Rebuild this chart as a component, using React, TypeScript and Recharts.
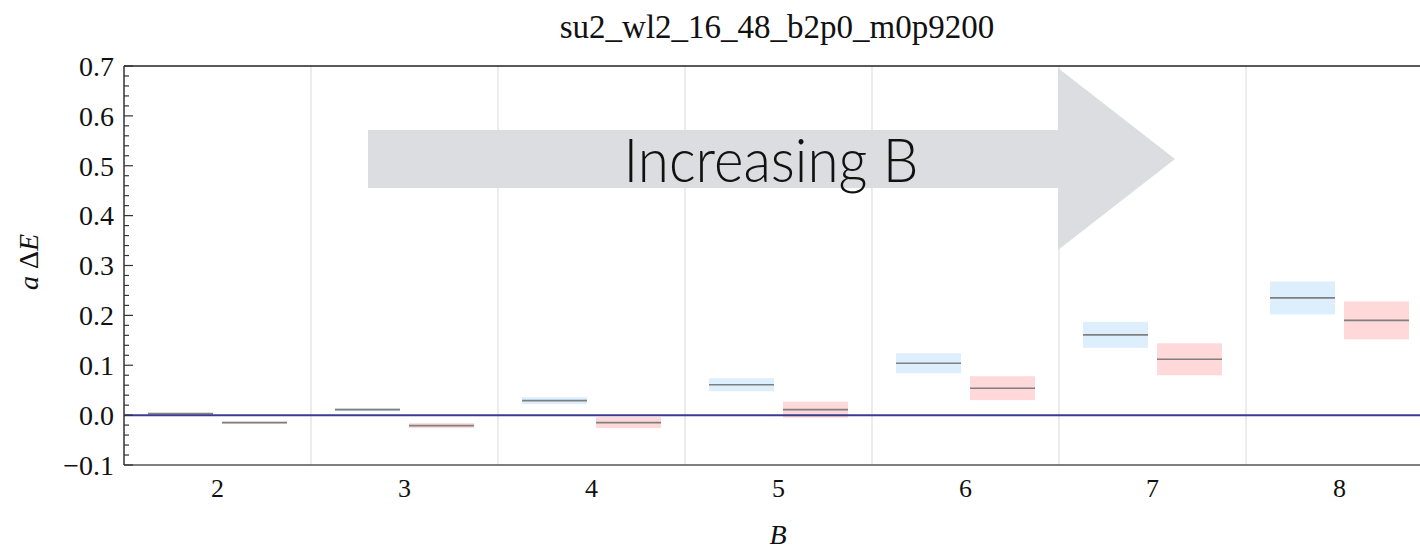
import {
  BarChart,
  Bar,
  XAxis,
  YAxis,
  CartesianGrid,
  ReferenceLine,
  Customized,
} from 'recharts';

const B_VALUES = [2, 3, 4, 5, 6, 7, 8];
const BLUE_CENTER = [0.003, 0.011, 0.029, 0.061, 0.104, 0.161, 0.235];
const BLUE_ERR = [0.001, 0.003, 0.007, 0.013, 0.02, 0.026, 0.033];
const RED_CENTER = [-0.015, -0.021, -0.015, 0.011, 0.054, 0.112, 0.19];
const RED_ERR = [0.002, 0.005, 0.011, 0.016, 0.024, 0.032, 0.038];
const Y_MAJOR = [-0.1, 0, 0.1, 0.2, 0.3, 0.4, 0.5, 0.6, 0.7];
const MINOR_PER_MAJOR = 5;

const TITLE = 'su2_wl2_16_48_b2p0_m0p9200';
const ARROW_TEXT = 'Increasing B';

const SERIF = '"Liberation Serif", "Times New Roman", serif';
const serifStyle = { fontFamily: SERIF };

const data = B_VALUES.map((b, i) => ({
  B: String(b),
  blue: [BLUE_CENTER[i] - BLUE_ERR[i], BLUE_CENTER[i] + BLUE_ERR[i]],
  red: [RED_CENTER[i] - RED_ERR[i], RED_CENTER[i] + RED_ERR[i]],
}));

// every 0.02 between the labelled ticks
const yTicks = Y_MAJOR.flatMap((t, i) => {
  if (i === Y_MAJOR.length - 1) return [t];
  const step = (Y_MAJOR[i + 1] - t) / MINOR_PER_MAJOR;
  return Array.from({ length: MINOR_PER_MAJOR }, (_, k) => Math.round((t + k * step) * 1000) / 1000);
});

const isMajor = (v: number) => Y_MAJOR.some((m) => Math.abs(m - v) < 1e-6);

const renderYTick = ({ x, y, payload }: any) => {
  const v = payload.value;
  const major = isMajor(v);
  const x0 = x + 10;
  return (
    <g key={`yt-${v}`}>
      <line x1={x0} x2={x0 + (major ? 9 : 5)} y1={y} y2={y} stroke="#333" strokeWidth={1.2} />
      {major && (
        <text x={x} y={y} dy="0.35em" textAnchor="end" style={{ ...serifStyle, fontSize: 28 }} fill="#111">
          {v < 0 ? `\u2212${Math.abs(v).toFixed(1)}` : v.toFixed(1)}
        </text>
      )}
    </g>
  );
};

const renderXTick = ({ x, y, payload }: any) => (
  <text key={`xt-${payload.value}`} x={x} y={y} dy={32} textAnchor="middle" style={{ ...serifStyle, fontSize: 26 }} fill="#111">
    {payload.value}
  </text>
);

const makeBox = (fill: string) => (props: any) => {
  const { x, y, width, height } = props;
  const top = Math.min(y, y + height);
  const h = Math.abs(height);
  const mid = top + h / 2;
  return (
    <g>
      <rect x={x} y={top} width={width} height={Math.max(h, 1)} fill={fill} />
      <line x1={x} x2={x + width} y1={mid} y2={mid} stroke="#7f7f7f" strokeWidth={1.6} />
    </g>
  );
};

function Annotations() {
  return (
    <g>
      <polygon
        points="368,130 1058,130 1058,68 1175,159 1058,250 1058,188 368,188"
        fill="#dcdde0"
      />
      <text
        x={771}
        y={182}
        textAnchor="middle"
        style={{ fontFamily: 'Lato, "Open Sans", sans-serif', fontWeight: 300, fontSize: 62 }}
        textLength={295}
        lengthAdjust="spacingAndGlyphs"
        fill="#111"
      >
        {ARROW_TEXT}
      </text>
      <text x={777} y={38} textAnchor="middle" style={{ ...serifStyle, fontSize: 33 }} fill="#111">
        {TITLE}
      </text>
      <text
        x={28}
        y={262}
        transform="rotate(-90 28 262)"
        textAnchor="middle"
        dy="0.35em"
        style={{ ...serifStyle, fontSize: 28 }}
        fill="#111"
      >
        <tspan fontStyle="italic">a</tspan> {'\u0394'}
        <tspan fontStyle="italic">E</tspan>
      </text>
      <text x={778} y={544} textAnchor="middle" style={{ ...serifStyle, fontStyle: 'italic', fontSize: 28 }} fill="#111">
        B
      </text>
    </g>
  );
}

export default function App() {
  return (
    <div
      style={{
        position: 'fixed',
        left: 0,
        top: 0,
        width: 1420,
        height: 550,
        overflow: 'hidden',
        background: '#fff',
        fontFamily: SERIF,
      }}
    >
      <BarChart
        width={1460}
        height={550}
        data={data}
        margin={{ top: 66, right: 27, bottom: 0, left: 0 }}
        barSize={65}
        barGap={9}
        barCategoryGap={24}
      >
        <CartesianGrid
          horizontal={false}
          stroke="#e6e6e6"
          strokeWidth={1.5}
          verticalCoordinatesGenerator={({ offset }: any) =>
            B_VALUES.slice(1).map((_, i) => offset.left + ((i + 1) * offset.width) / B_VALUES.length)
          }
        />
        <Customized component={Annotations} />
        <XAxis
          dataKey="B"
          height={85}
          interval={0}
          tickLine={false}
          tickSize={0}
          tickMargin={0}
          axisLine={{ stroke: '#555', strokeWidth: 1.5 }}
          tick={renderXTick}
        />
        <YAxis
          type="number"
          width={124}
          domain={[-0.1, 0.7]}
          ticks={yTicks}
          interval={0}
          allowDataOverflow
          tickSize={0}
          tickMargin={10}
          tickLine={false}
          axisLine={{ stroke: '#333', strokeWidth: 1.5 }}
          tick={renderYTick}
        />
        <Bar dataKey="blue" isAnimationActive={false} shape={makeBox('#ddeefd')} />
        <Bar dataKey="red" isAnimationActive={false} shape={makeBox('#ffd9da')} />
        <ReferenceLine y={0} stroke="#3b3b8f" strokeWidth={2} />
        <ReferenceLine y={0.7} stroke="#222" strokeWidth={1.5} />
      </BarChart>
    </div>
  );
}
